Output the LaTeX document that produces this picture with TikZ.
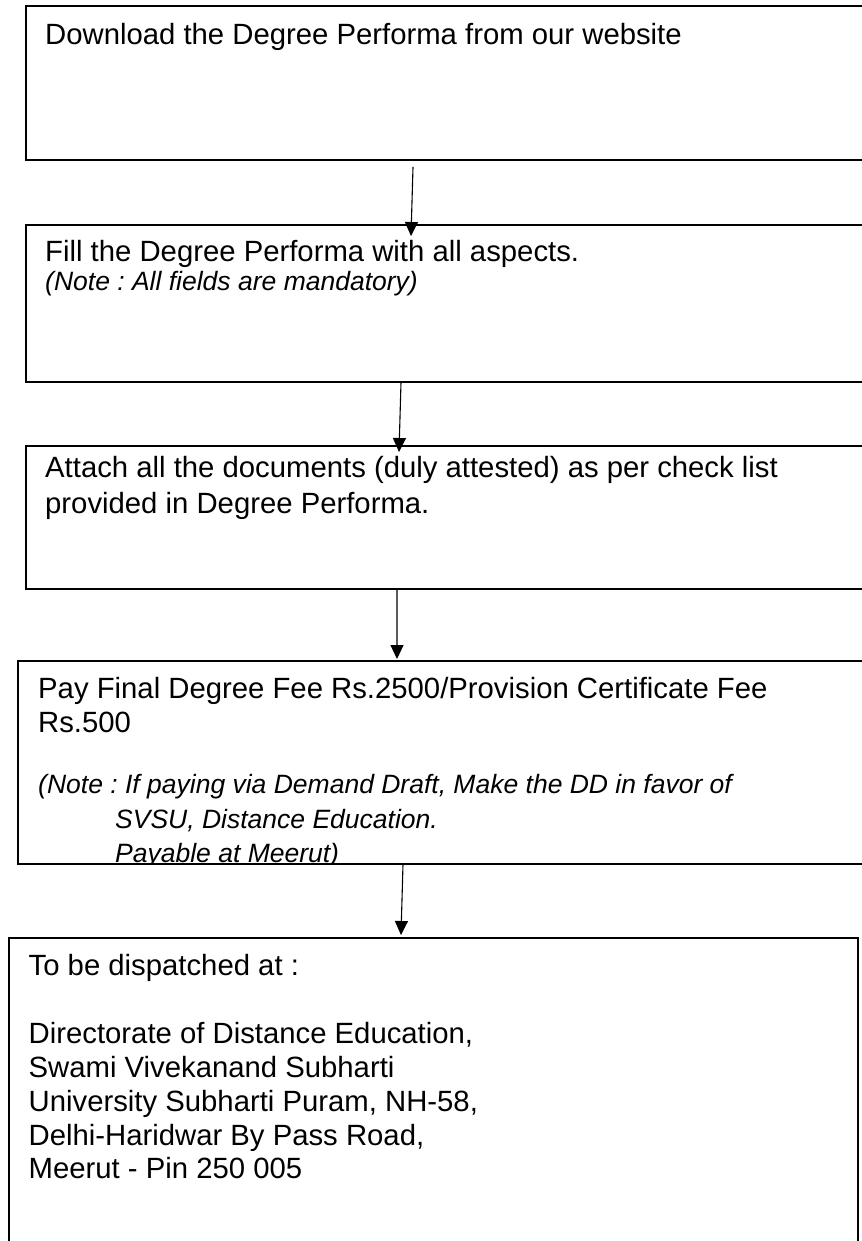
\documentclass[tikz,border=0pt]{standalone}
\usepackage{fontspec}
\setmainfont{Liberation Sans}
\usetikzlibrary{arrows.meta}
\begin{document}
\begin{tikzpicture}[x=1bp,y=-1bp,
  stepbox/.style={draw=black, line width=1.4bp, rectangle, inner sep=0pt, outer sep=0pt, anchor=north west},
  txt/.style={anchor=base west, inner sep=0pt, font=\fontsize{29.4}{33}\selectfont\frenchspacing},
  note/.style={anchor=base west, inner sep=0pt, font=\fontsize{26.6}{31}\selectfont\itshape\frenchspacing},
  arr/.style={line width=1.1bp, -{Triangle[width=13bp,length=14bp]}}]
\useasboundingbox[fill=white] (0,0) rectangle (862,1241);
\clip (0,0) rectangle (862,1241);
% boxes
\node[stepbox, minimum width=880bp, minimum height=154bp] (b1) at (26,6) {};
\node[stepbox, minimum width=880bp, minimum height=157bp] (b2) at (26,225) {};
\node[stepbox, minimum width=880bp, minimum height=143bp] (b3) at (26,446) {};
\node[stepbox, minimum width=890bp, minimum height=203bp] (b4) at (18,661) {};
\node[stepbox, minimum width=849bp, minimum height=340bp] (b5) at (9,938) {};
% texts
\node[txt] (t1) at (45,44) {Download the Degree Performa from our website};
\node[txt] (t2) at (45,261) {Fill the Degree Performa with all aspects.};
\node[note] (n2) at (45,290) {(Note : All fields are mandatory)};
\node[txt] (t3a) at (45,477) {Attach all the documents (duly attested) as per check list};
\node[txt] (t3b) at (45,513) {provided in Degree Performa.};
\begin{scope}
\clip (b4.north west) rectangle (b4.south east);
\node[txt] (t4a) at (38,698) {Pay Final Degree Fee Rs.2500/Provision Certificate Fee};
\node[txt] (t4b) at (38,732) {Rs.500};
\node[note] (n4a) at (38,793) {(Note : If paying via Demand Draft, Make the DD in favor of};
\node[note] (n4b) at (115,828) {SVSU, Distance Education.};
\node[note] (n4c) at (115,862) {Payable at Meerut)};
\end{scope}
\node[txt] (t5a) at (28.5,975) {To be dispatched at :};
\node[txt] (t5b) at (28.5,1043) {Directorate of Distance Education,};
\node[txt] (t5c) at (28.5,1077) {Swami Vivekanand Subharti};
\node[txt] (t5d) at (28.5,1111) {University Subharti Puram, NH-58,};
\node[txt] (t5e) at (28.5,1145) {Delhi-Haridwar By Pass Road,};
\node[txt] (t5f) at (28.5,1178) {Meerut - Pin 250 005};
% connectors
\draw[arr] ([xshift=387bp,yshift=-7bp]b1.south west) -- ([xshift=385bp,yshift=-11bp]b2.north west);
\draw[arr] ([xshift=375bp]b2.south west) -- ([xshift=373bp,yshift=-6bp]b3.north west);
\draw[arr] ([xshift=371bp]b3.south west) -- ([xshift=379bp,yshift=2bp]b4.north west);
\draw[arr] ([xshift=385bp]b4.south west) -- ([xshift=392bp,yshift=3bp]b5.north west);
\end{tikzpicture}
\end{document}
